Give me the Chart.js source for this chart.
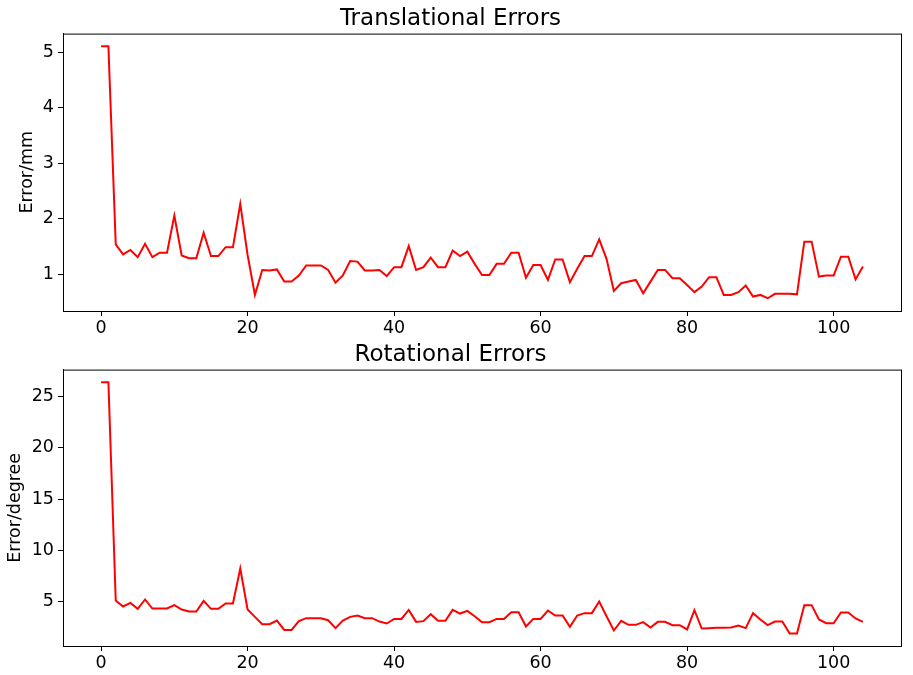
<!DOCTYPE html>
<html>
<head>
<meta charset="utf-8">
<script src="https://cdn.jsdelivr.net/npm/chart.js@4.4.1/dist/chart.umd.min.js"></script>
<style>
    html, body { margin: 0; padding: 0; background: #fff; }
    #wrap { position: relative; width: 913px; height: 675px; }
    #transChart { position: absolute; left: 0; top: 0; }
    #rotChart { position: absolute; left: 0; top: 336px; }
</style>
</head>
<body>
<div id="wrap">
    <canvas id="transChart" width="913" height="340"></canvas>
    <canvas id="rotChart" width="913" height="339"></canvas>
</div>
<script>
// data (one value per step, 0..104)
const transErrors = [
    5.11, 5.11, 1.54, 1.36, 1.44, 1.31, 1.55, 1.31, 1.39, 1.39,
    2.06, 1.34, 1.29, 1.29, 1.75, 1.33, 1.33, 1.49, 1.49, 2.27,
    1.35, 0.63, 1.08, 1.07, 1.09, 0.87, 0.87, 0.98, 1.16, 1.16,
    1.16, 1.08, 0.85, 0.98, 1.24, 1.23, 1.07, 1.07, 1.08, 0.97,
    1.13, 1.13, 1.51, 1.08, 1.13, 1.30, 1.13, 1.13, 1.43, 1.33,
    1.41, 1.19, 0.99, 0.99, 1.19, 1.19, 1.39, 1.39, 0.94, 1.17,
    1.17, 0.90, 1.27, 1.27, 0.86, 1.10, 1.33, 1.33, 1.63, 1.28,
    0.70, 0.84, 0.87, 0.90, 0.66, 0.87, 1.08, 1.08, 0.93, 0.93,
    0.81, 0.68, 0.78, 0.95, 0.95, 0.63, 0.63, 0.68, 0.80, 0.60,
    0.63, 0.57, 0.65, 0.65, 0.65, 0.64, 1.59, 1.59, 0.96, 0.98,
    0.98, 1.32, 1.32, 0.91, 1.14
];
const rotErrors = [
    26.40, 26.40, 5.13, 4.55, 4.90, 4.32, 5.23, 4.35, 4.35, 4.35,
    4.68, 4.25, 4.06, 4.06, 5.10, 4.32, 4.32, 4.84, 4.84, 8.25,
    4.25, 3.54, 2.82, 2.82, 3.18, 2.27, 2.27, 3.12, 3.41, 3.41,
    3.41, 3.21, 2.44, 3.18, 3.54, 3.67, 3.41, 3.41, 3.08, 2.89,
    3.34, 3.34, 4.22, 3.05, 3.12, 3.80, 3.15, 3.15, 4.22, 3.86,
    4.12, 3.60, 3.02, 3.02, 3.34, 3.34, 3.99, 3.99, 2.60, 3.34,
    3.34, 4.16, 3.67, 3.67, 2.56, 3.67, 3.90, 3.90, 5.03, 3.60,
    2.21, 3.15, 2.76, 2.76, 3.02, 2.50, 3.05, 3.05, 2.73, 2.73,
    2.31, 4.19, 2.40, 2.44, 2.47, 2.47, 2.50, 2.69, 2.44, 3.90,
    3.28, 2.73, 3.08, 3.08, 1.92, 1.92, 4.68, 4.68, 3.28, 2.92,
    2.92, 3.96, 3.96, 3.38, 3.05
];
const steps = transErrors.map((_, i) => i);

const xTicks = [0, 20, 40, 60, 80, 100];
const transTicks = [1, 2, 3, 4, 5];
const rotTicks = [5, 10, 15, 20, 25];

const FONT = 'DejaVu Sans';

// black frame round the plot area, like matplotlib axes
const framePlugin = {
    id: 'frame',
    afterDraw(chart) {
        const { ctx, chartArea: a } = chart;
        ctx.save();
        ctx.strokeStyle = '#000';
        ctx.lineWidth = 1;
        ctx.strokeRect(a.left + 0.5, a.top + 0.5, a.right - a.left, a.bottom - a.top);
        ctx.restore();
    }
};

function makeChart(id, title, yLabel, values, yMin, yMax, yTicks, xAxisHeight, yTitlePad) {
    const tickGrid = { drawOnChartArea: false, drawTicks: true, tickLength: 5, color: '#000', lineWidth: 1 };
    return new Chart(document.getElementById(id), {
        type: 'line',
        data: {
            datasets: [{
                data: steps.map((s, i) => ({ x: s, y: values[i] })),
                borderColor: '#ff0000',
                borderWidth: 2,
                pointRadius: 0,
                tension: 0,
                fill: false
            }]
        },
        options: {
            responsive: false,
            animation: false,
            layout: { padding: { left: 0, right: 12, top: 0, bottom: 0 } },
            plugins: {
                legend: { display: false },
                tooltip: { enabled: false },
                title: {
                    display: true,
                    text: title,
                    color: '#000',
                    font: { family: FONT, size: 23, weight: 'normal', lineHeight: 1.2 },
                    padding: { top: 5.5, bottom: 0.5 }
                }
            },
            scales: {
                x: {
                    type: 'linear',
                    min: -5.2,
                    max: 109.2,
                    grid: tickGrid,
                    border: { display: true, color: '#000', width: 1 },
                    ticks: { color: '#000', padding: 2, maxRotation: 0, font: { family: FONT, size: 17.5 } },
                    afterBuildTicks: axis => { axis.ticks = xTicks.map(v => ({ value: v })); },
                    afterFit: axis => { axis.height = xAxisHeight; }
                },
                y: {
                    min: yMin,
                    max: yMax,
                    grid: tickGrid,
                    border: { display: true, color: '#000', width: 1 },
                    ticks: { color: '#000', padding: 4, font: { family: FONT, size: 17.5 } },
                    title: {
                        display: true,
                        text: yLabel,
                        color: '#000',
                        font: { family: FONT, size: 17.5, lineHeight: 1.2 },
                        padding: { top: yTitlePad, bottom: 0 }
                    },
                    afterBuildTicks: axis => { axis.ticks = yTicks.map(v => ({ value: v })); },
                    afterFit: axis => { axis.width = 63; }
                }
            }
        },
        plugins: [framePlugin]
    });
}

makeChart('transChart', 'Translational Errors', 'Error/mm', transErrors, 0.34, 5.34, transTicks, 29, 17);
makeChart('rotChart', 'Rotational Errors', 'Error/degree', rotErrors, 0.70, 27.62, rotTicks, 29, 4.6);
</script>
</body>
</html>
